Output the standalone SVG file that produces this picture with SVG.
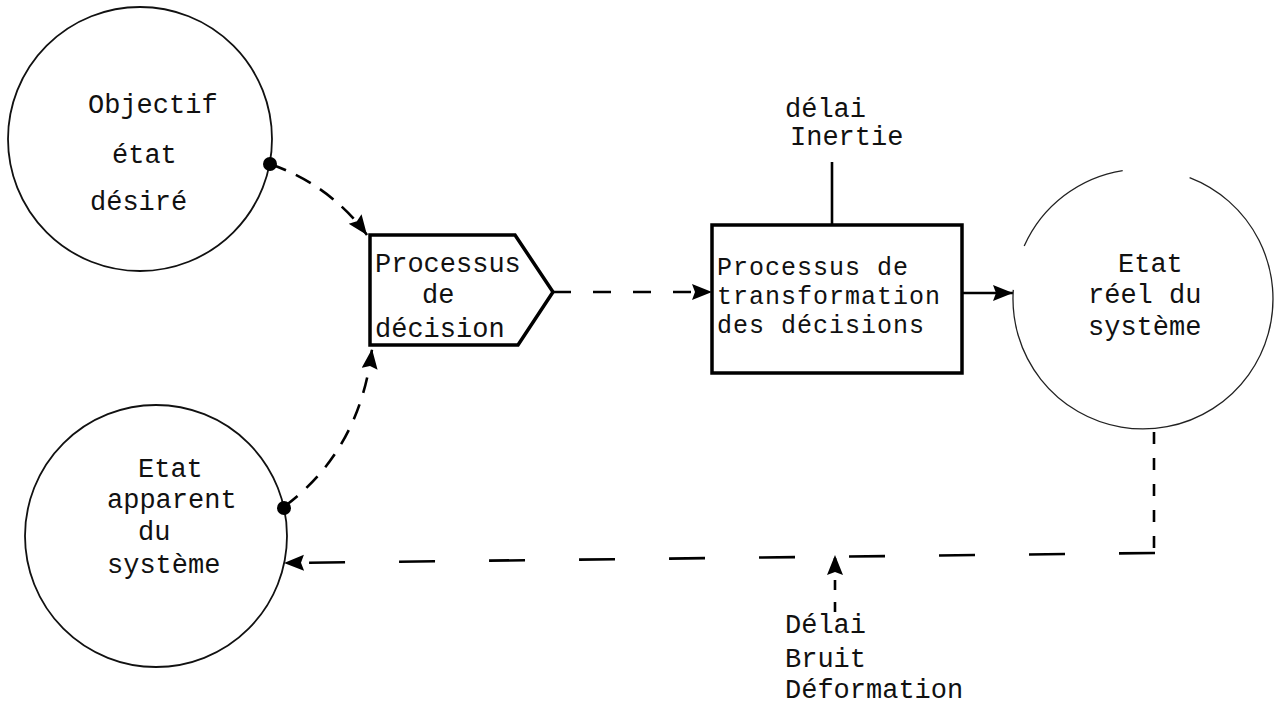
<svg xmlns="http://www.w3.org/2000/svg" width="1281" height="704" viewBox="0 0 1281 704">
  <style>
    .lbl { font-family: "Liberation Mono", "DejaVu Sans Mono", monospace; font-size: 27px; fill: #111; }
    .lbl-box { font-size: 25px; letter-spacing: 1px; }
    .ring { fill: none; stroke: #111; stroke-width: 1.8; }
    .ring-thin { fill: none; stroke: #222; stroke-width: 1.3; }
    .box { fill: #fff; stroke: #000; stroke-width: 3.5; stroke-linejoin: miter; }
    .dash { fill: none; stroke: #000; stroke-width: 2.6; }
    .solid { fill: none; stroke: #000; stroke-width: 2.6; }
  </style>
  <defs>
    <marker id="head" markerUnits="userSpaceOnUse" markerWidth="22" markerHeight="18" refX="20" refY="8" orient="auto">
      <path d="M0,0 L20,8 L0,16 L3,8 z" fill="#000"/>
    </marker>
  </defs>

  <rect width="1281" height="704" fill="#fff"/>

  <!-- connectors -->
  <g id="connectors">
    <!-- objective -> decision -->
    <path class="dash" d="M270 164 Q330 185 367 235" stroke-dasharray="17 11" marker-end="url(#head)"/>
    <!-- apparent state -> decision -->
    <path class="dash" d="M285 506 Q360 450 372 349" stroke-dasharray="16 12" marker-end="url(#head)"/>
    <!-- decision -> transformation -->
    <path class="dash" d="M553 292 L712 292" stroke-dasharray="18 22" marker-end="url(#head)"/>
    <!-- transformation -> real state -->
    <path class="solid" d="M962 293 L1013 293" marker-end="url(#head)"/>
    <!-- delay / inertia tick -->
    <path class="solid" d="M832 162 L832 225"/>
    <!-- feedback loop: real state -> apparent state -->
    <path class="dash" d="M1154 432 L1154 553" stroke-width="1.4" stroke-dasharray="12 14"/>
    <path class="dash" d="M1155 553 L284 563" stroke-width="2" stroke-dasharray="36 54" marker-end="url(#head)"/>
    <!-- disturbances entering the feedback -->
    <path class="dash" d="M835 612 L835 555" stroke-width="1.4" stroke-dasharray="10 12" marker-end="url(#head)"/>
  </g>

  <!-- Objectif -->
  <g id="objectif">
    <circle class="ring" cx="140" cy="139" r="132"/>
    <circle cx="270" cy="164" r="7" fill="#000"/>
    <text class="lbl" x="88" y="113">Objectif</text>
    <text class="lbl" x="112" y="163">état</text>
    <text class="lbl" x="90" y="210">désiré</text>
  </g>

  <!-- Etat apparent -->
  <g id="etat-apparent">
    <circle class="ring" cx="156" cy="536" r="131"/>
    <circle cx="284" cy="508" r="7" fill="#000"/>
    <text class="lbl" x="138" y="477">Etat</text>
    <text class="lbl" x="107" y="508">apparent</text>
    <text class="lbl" x="138" y="540">du</text>
    <text class="lbl" x="107" y="573">système</text>
  </g>

  <!-- Processus de décision -->
  <g id="decision">
    <path class="box" d="M370 235 L515 235 L553 292 L518 345 L370 345 Z"/>
    <text class="lbl" x="375" y="272">Processus</text>
    <text class="lbl" x="422" y="303">de</text>
    <text class="lbl" x="375" y="337">décision</text>
  </g>

  <!-- Processus de transformation -->
  <g id="transformation">
    <rect class="box" x="712" y="225" width="250" height="148" stroke-width="3"/>
    <text class="lbl lbl-box" x="717" y="275">Processus de</text>
    <text class="lbl lbl-box" x="717" y="304">transformation</text>
    <text class="lbl lbl-box" x="717" y="333">des décisions</text>
  </g>

  <!-- délai / Inertie -->
  <g id="inertie">
    <text class="lbl" x="785" y="117">délai</text>
    <text class="lbl" x="790" y="145">Inertie</text>
  </g>

  <!-- Etat réel -->
  <g id="etat-reel">
    <path class="ring-thin" d="M1189.6 177.6 A130 130 0 1 1 1013.3 289.9"/>
    <path class="ring-thin" d="M1024.2 246.1 A130 130 0 0 1 1122.7 170.6"/>
    <text class="lbl" x="1118" y="272">Etat</text>
    <text class="lbl" x="1088" y="303">réel du</text>
    <text class="lbl" x="1088" y="335">système</text>
  </g>

  <!-- Délai / Bruit / Déformation -->
  <g id="perturbations">
    <text class="lbl" x="785" y="633">Délai</text>
    <text class="lbl" x="785" y="667">Bruit</text>
    <text class="lbl" x="785" y="698">Déformation</text>
  </g>
</svg>
